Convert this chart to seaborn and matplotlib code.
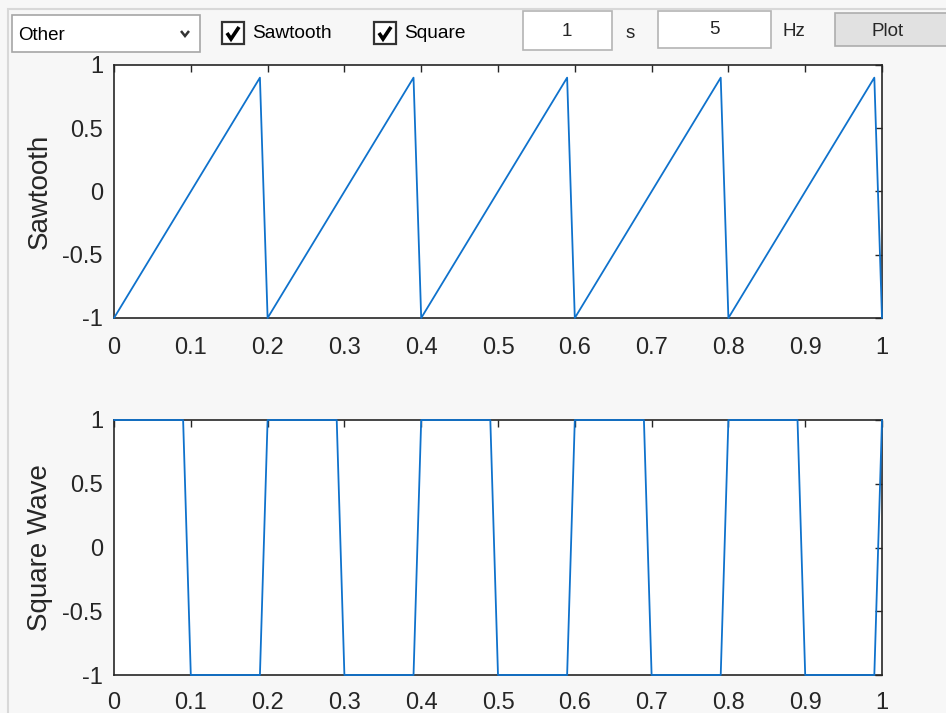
import matplotlib
matplotlib.use('Agg')
import matplotlib.pyplot as plt
from matplotlib.patches import Rectangle
from matplotlib.lines import Line2D
import pandas as pd
import seaborn as sns

# datos (1 s, 5 Hz)
saw_t = [0, 0.19, 0.2, 0.39, 0.4, 0.59, 0.6, 0.79, 0.8, 0.99, 1.0]
saw_v = [-1, 0.9, -1, 0.9, -1, 0.9, -1, 0.9, -1, 0.9, -1]

sq_t = [0, 0.09, 0.1, 0.19, 0.2, 0.29, 0.3, 0.39, 0.4, 0.49, 0.5,
        0.59, 0.6, 0.69, 0.7, 0.79, 0.8, 0.89, 0.9, 0.99, 1.0]
sq_v = [1, 1, -1, -1, 1, 1, -1, -1, 1, 1, -1,
        -1, 1, 1, -1, -1, 1, 1, -1, -1, 1]

x_ticks = [0, 0.1, 0.2, 0.3, 0.4, 0.5, 0.6, 0.7, 0.8, 0.9, 1]
x_labels = ['0', '0.1', '0.2', '0.3', '0.4', '0.5', '0.6', '0.7', '0.8', '0.9', '1']
y_ticks = [-1, -0.5, 0, 0.5, 1]
y_labels = ['-1', '-0.5', '0', '0.5', '1']

sns.set_style('white')
plt.rcParams['font.family'] = ['Liberation Sans', 'DejaVu Sans']

W, H = 946, 713
BG = '#f7f7f7'
LINE = '#0f72cc'

fig = plt.figure(figsize=(W / 100, H / 100), dpi=100, facecolor=BG)


def fx(x):
    return x / W


def fy(y):
    return 1 - y / H


def box(x0, y0, x1, y1, fc, ec, lw=1.2):
    fig.add_artist(Rectangle((fx(x0), fy(y1)), (x1 - x0) / W, (y1 - y0) / H,
                             transform=fig.transFigure, facecolor=fc,
                             edgecolor=ec, linewidth=lw))


def poly(xs, ys, color, lw):
    fig.add_artist(Line2D([fx(v) for v in xs], [fy(v) for v in ys],
                          transform=fig.transFigure, color=color, linewidth=lw,
                          solid_capstyle='butt', solid_joinstyle='miter'))


# borde del panel
poly([8, 8, W], [H, 9, 9], '#d8d8d8', 1.5)

# controles de la barra superior
box(12, 15, 200, 52, 'white', '#a6a6a6')
fig.text(fx(18), fy(35), 'Other', fontsize=13.5, va='center', color='black')
poly([181, 185, 189], [31, 36, 31], '#333333', 1.8)

for cx, lab in [(222, 'Sawtooth'), (374, 'Square')]:
    box(cx, 22, cx + 22, 44, 'white', '#333333', 1.6)
    poly([cx + 5, cx + 9, cx + 17], [33, 39, 27], 'black', 2.6)
    fig.text(fx(cx + 30), fy(33), lab, fontsize=13.8, va='center', color='black')

box(523, 11, 612, 50, 'white', '#b4b4b4')
fig.text(fx(567), fy(31), '1', fontsize=13.5, ha='center', va='center')
fig.text(fx(626), fy(33), 's', fontsize=13.5, ha='left', va='center')
box(658, 11, 771, 48, 'white', '#b4b4b4')
fig.text(fx(714), fy(30), '5', fontsize=13.5, ha='center', va='center')
fig.text(fx(782), fy(31), 'Hz', fontsize=13.5, ha='left', va='center')
box(835, 13, 960, 46, '#e1e1e1', '#adadad')
fig.text(fx(888), fy(31), 'Plot', fontsize=13.5, ha='center', va='center')

# ejes
left, width = 114 / W, 768 / W
ax1 = fig.add_axes([left, 1 - 318 / H, width, 253 / H])
ax2 = fig.add_axes([left, 1 - 675 / H, width, 255 / H])

df_saw = pd.DataFrame({'t': saw_t, 'v': saw_v})
df_sq = pd.DataFrame({'t': sq_t, 'v': sq_v})

sns.lineplot(data=df_saw, x='t', y='v', ax=ax1, color=LINE, linewidth=1.3,
             estimator=None, sort=False, clip_on=False, zorder=4)
sns.lineplot(data=df_sq, x='t', y='v', ax=ax2, color=LINE, linewidth=1.3,
             estimator=None, sort=False, clip_on=False, zorder=4)

for ax, ylab, xpad in [(ax1, 'Sawtooth', 14), (ax2, 'Square Wave', 12)]:
    ax.set_facecolor('white')
    ax.set_xlim(0, 1)
    ax.set_ylim(-1, 1)
    ax.set_xticks(x_ticks)
    ax.set_xticklabels(x_labels)
    ax.set_yticks(y_ticks)
    ax.set_yticklabels(y_labels)
    ax.tick_params(direction='in', length=5, width=1, colors='#262626',
                   labelsize=17, top=True, right=True)
    ax.tick_params(axis='x', pad=xpad)
    ax.tick_params(axis='y', pad=8)
    for s in ax.spines.values():
        s.set_color('#262626')
        s.set_linewidth(1.2)
        s.set_visible(True)
    ax.set_xlabel('')
    ax.set_ylabel(ylab, fontsize=20, color='#262626')
    ax.yaxis.set_label_coords((53 - 114) / 768, 0.5)

fig.savefig('out.png', dpi=100, facecolor=BG)
